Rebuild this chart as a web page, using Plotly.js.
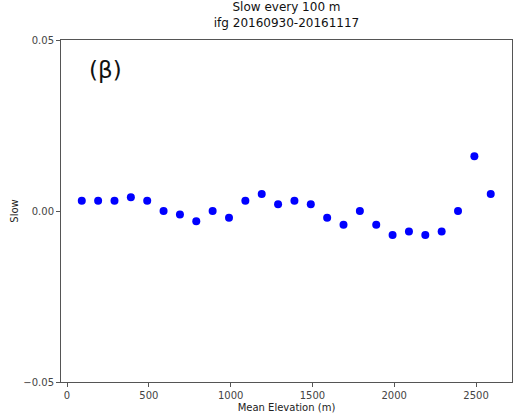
<!DOCTYPE html>
<html>
<head>
<meta charset="utf-8">
<script src="https://cdn.plot.ly/plotly-3.0.1.min.js"></script>
<style>html,body{margin:0;padding:0;background:#fff;}#chart{width:516px;height:418px;}</style>
</head>
<body>
<div id="chart"></div>
<script>
const elevation = [90,190,290,390,490,590,690,790,890,990,1090,1190,1290,1390,1490,1590,1690,1790,1890,1990,2090,2190,2290,2390,2490,2590];
const slow = [0.003,0.003,0.003,0.004,0.003,0.000,-0.001,-0.003,0.000,-0.002,0.003,0.005,0.002,0.003,0.002,-0.002,-0.004,0.000,-0.004,-0.007,-0.006,-0.007,-0.006,0.000,0.016,0.005];
const yTickVals = [-0.05, 0, 0.05];
const yTickText = ['\u22120.05', '0.00', '0.05'];
const xTickVals = [0, 500, 1000, 1500, 2000, 2500];
const xTickText = ['0', '500', '1000', '1500', '2000', '2500'];

const font = "DejaVu Sans, sans-serif";
const trace = {
  x: elevation, y: slow, type: 'scatter', mode: 'markers',
  marker: {color: '#0000ff', size: 8, line: {width: 0}},
  hoverinfo: 'none'
};
const layout = {
  width: 516, height: 418,
  margin: {l: 61, r: 4, t: 40, b: 36, pad: 0},
  paper_bgcolor: '#ffffff', plot_bgcolor: '#ffffff',
  showlegend: false,
  font: {family: font, color: '#333', size: 10},
  title: {
    text: 'Slow every 100 m<br>ifg 20160930-20161117',
    font: {family: font, size: 12, color: '#111'},
    xref: 'paper', x: 0.5, xanchor: 'center',
    yref: 'container', y: 0.973, yanchor: 'top'
  },
  xaxis: {
    range: [-37, 2720], tickvals: xTickVals, ticktext: xTickText,
    ticks: 'outside', ticklen: 4, tickwidth: 1, tickcolor: '#555',
    showline: true, linecolor: '#555', linewidth: 1, mirror: true,
    showgrid: false, zeroline: false,
    tickfont: {family: font, size: 10, color: '#444'},
    title: {text: 'Mean Elevation (m)', font: {family: font, size: 10, color: '#222'}, standoff: 3}
  },
  yaxis: {
    range: [-0.05, 0.05], tickvals: yTickVals, ticktext: yTickText,
    ticks: 'outside', ticklen: 4, tickwidth: 1, tickcolor: '#555',
    showline: true, linecolor: '#555', linewidth: 1, mirror: true,
    showgrid: false, zeroline: false,
    tickfont: {family: font, size: 10, color: '#444'},
    title: {text: 'Slow', font: {family: font, size: 10, color: '#222'}, standoff: 2}
  },
  annotations: [{
    text: '(β)', xref: 'paper', yref: 'paper', x: 0.0976, y: 0.912,
    xanchor: 'center', yanchor: 'middle', showarrow: false,
    font: {family: font, size: 23, color: '#111'}
  }]
};
Plotly.newPlot('chart', [trace], layout, {displayModeBar: false, staticPlot: true});
</script>
</body>
</html>
